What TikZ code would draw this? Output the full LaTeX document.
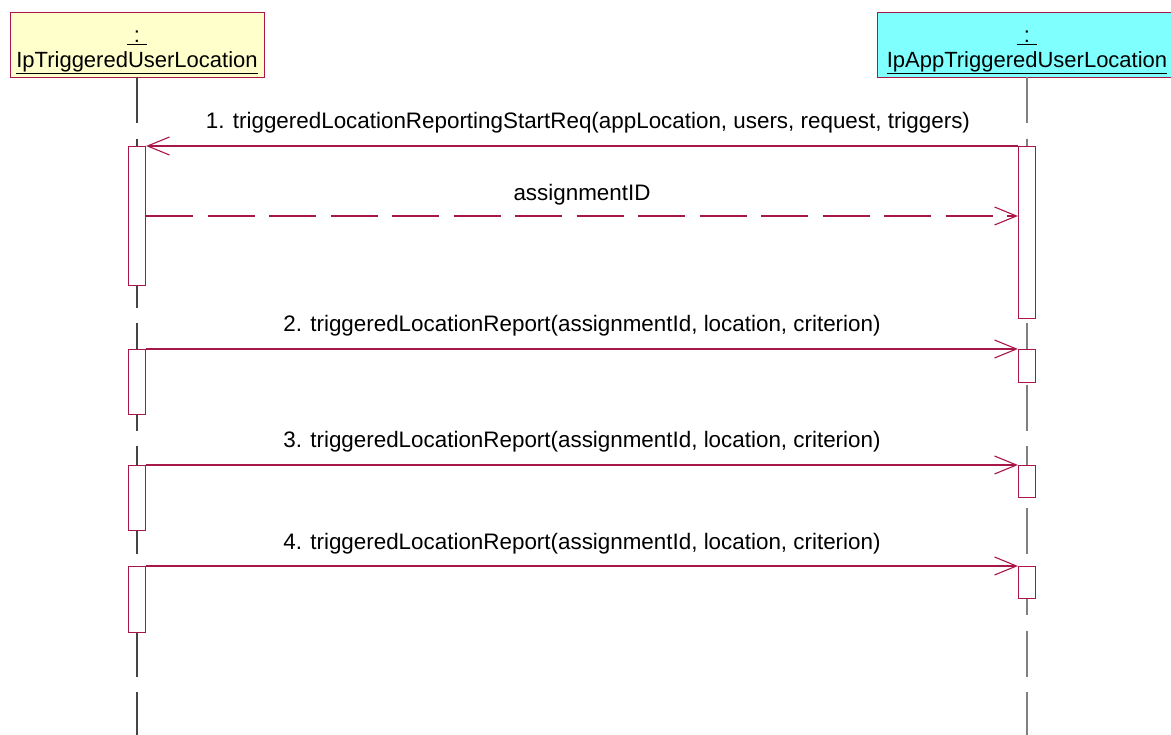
\documentclass[tikz,border=0pt]{standalone}
\usepackage{fontspec}
\setmainfont{Liberation Sans}
\usetikzlibrary{arrows.meta,positioning,calc}
\definecolor{MsgRed}{HTML}{A8174A}
\definecolor{HeadYellow}{HTML}{FFFFCC}
\definecolor{HeadCyan}{HTML}{80FFFF}
\definecolor{LifeDark}{HTML}{454545}
\definecolor{LifeGray}{HTML}{808080}

\begin{document}
\begin{tikzpicture}[x=1pt,y=-1pt,
    objbox/.style={draw=MsgRed,line width=0.9pt,minimum height=65pt,inner sep=0pt},
    objtext/.style={align=center,inner sep=0pt,font=\fontsize{22}{25}\selectfont},
    actbox/.style={draw=MsgRed,fill=white,line width=1.1pt,minimum width=17pt,inner sep=0pt,anchor=north},
    lifeline/.style={line width=1.3pt,dash pattern=on 46pt off 15.5pt},
    msg/.style={draw=MsgRed,line width=1.1pt,-{Straight Barb[length=22pt,width=18pt]}},
    ret/.style={msg,dash pattern=on 47pt off 14.5pt},
    msglabel/.style={font=\fontsize{22.4}{28}\selectfont,anchor=base,midway,yshift=17pt}]
  \useasboundingbox (0,0) rectangle (1171,735);
  % objects
  \node[objbox,fill=HeadYellow,minimum width=254pt] (ipTUL) at (137,44.5) {};
  \node[objbox,fill=HeadCyan,minimum width=300pt] (ipAppTUL) at (1027,44.5) {};
  \node[objtext] (ipTULname) at ([yshift=-8pt]ipTUL.center) {\underline{\hspace{7pt}:\hspace{7pt}}\\\underline{IpTriggeredUserLocation}};
  \node[objtext] (ipAppTULname) at ([yshift=-8pt]ipAppTUL.center) {\underline{\hspace{7pt}:\hspace{7pt}}\\\underline{IpAppTriggeredUserLocation}};
  \coordinate (tulEnd) at (137,735);
  \coordinate (appEnd) at (1027,735);
  \draw[lifeline,color=LifeDark] (ipTUL.south) -- (tulEnd);
  \draw[lifeline,color=LifeGray] (ipAppTUL.south) -- (appEnd);
  % activations
  \foreach \n/\y/\h in {1/146/139,2/349/65,3/465/65,4/566/66} {
    \node[actbox,minimum height=\h pt] (tul\n) at (137,\y) {};
  }
  \foreach \n/\y/\h in {1/146/172,2/349/33,3/465/32,4/566/32} {
    \node[actbox,minimum height=\h pt] (app\n) at (1027,\y) {};
  }
  % messages
  \draw[msg] (app1.north west) -- (tul1.north east)
    node[msglabel,xshift=6pt] {1. triggeredLocationReportingStartReq(appLocation, users, request, triggers)};
  \draw[ret] ($(tul1.north east)+(0,70)$) -- ($(app1.north west)+(0,70)$)
    node[msglabel,yshift=-2pt] {assignmentID};
  \foreach \n in {2,3,4} {
    \draw[msg] (tul\n.north east) -- (app\n.north west)
      node[msglabel] {\n. triggeredLocationReport(assignmentId, location, criterion)};
  }
\end{tikzpicture}
\end{document}
